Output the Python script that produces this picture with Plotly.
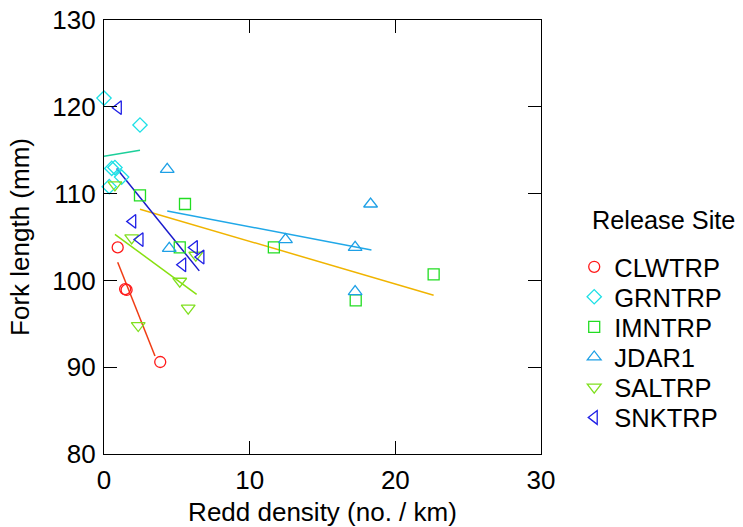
import plotly.graph_objects as go

# ---- data ----
sites = ["CLWTRP", "GRNTRP", "IMNTRP", "JDAR1", "SALTRP", "SNKTRP"]

clw_x = [0.94, 1.45, 1.55, 3.86]
clw_y = [103.8, 99.0, 98.9, 90.6]
grn_x = [0.0, 2.47, 0.53, 0.75, 1.21, 0.36]
grn_y = [121.0, 117.9, 112.9, 113.0, 111.9, 110.8]
imn_x = [2.47, 5.56, 5.2, 11.66, 17.28, 22.63]
imn_y = [109.8, 108.8, 103.8, 103.8, 97.7, 100.7]
jda_x = [4.34, 4.48, 12.46, 18.3, 17.24, 17.24]
jda_y = [112.8, 103.7, 104.7, 108.8, 103.8, 98.7]
sal_x = [0.75, 1.9, 5.2, 5.78, 2.35, 6.3]
sal_y = [111.0, 104.9, 99.9, 96.8, 94.8, 102.9]
snk_x = [0.98, 1.97, 2.47, 6.2, 6.65, 5.4]
snk_y = [119.9, 106.8, 104.7, 103.8, 102.7, 101.8]

# fitted-line endpoints per site
fit_x = {
    "CLWTRP": [0.94, 3.5],
    "GRNTRP": [0.0, 2.47],
    "IMNTRP": [2.47, 22.63],
    "JDAR1": [4.34, 18.36],
    "SALTRP": [0.75, 6.36],
    "SNKTRP": [0.87, 6.54],
}
fit_y = {
    "CLWTRP": [102.1, 91.3],
    "GRNTRP": [114.3, 115.0],
    "IMNTRP": [108.2, 98.3],
    "JDAR1": [108.0, 103.5],
    "SALTRP": [105.3, 98.4],
    "SNKTRP": [112.9, 101.1],
}

x_ticks = [0, 10, 20, 30]
y_ticks = [80, 90, 100, 110, 120, 130]

points = {
    "CLWTRP": (clw_x, clw_y),
    "GRNTRP": (grn_x, grn_y),
    "IMNTRP": (imn_x, imn_y),
    "JDAR1": (jda_x, jda_y),
    "SALTRP": (sal_x, sal_y),
    "SNKTRP": (snk_x, snk_y),
}

symbols = {
    "CLWTRP": ("circle-open", 11),
    "GRNTRP": ("diamond-open", 11),
    "IMNTRP": ("square-open", 11),
    "JDAR1": ("triangle-up-open", 12),
    "SALTRP": ("triangle-down-open", 12),
    "SNKTRP": ("triangle-left-open", 12),
}
marker_colors = {
    "CLWTRP": "#ff1a1a",
    "GRNTRP": "#1ee0e6",
    "IMNTRP": "#22dd22",
    "JDAR1": "#1ea0e6",
    "SALTRP": "#80e020",
    "SNKTRP": "#2020e6",
}
line_colors = {
    "CLWTRP": "#f03c14",
    "GRNTRP": "#1ccf9a",
    "IMNTRP": "#f0b400",
    "JDAR1": "#20a8e8",
    "SALTRP": "#88e010",
    "SNKTRP": "#1a1acc",
}

FONT = "Arial, Liberation Sans, sans-serif"

# one single-entry legend per site, so the entries sit 30 px apart
legend_ids = ["legend", "legend2", "legend3", "legend4", "legend5", "legend6"]
legend_y = [0.4304, 0.3613, 0.2919, 0.2226, 0.1532, 0.0834]

fig = go.Figure()
for s in sites:
    fig.add_trace(go.Scatter(
        x=fit_x[s], y=fit_y[s], mode="lines",
        line=dict(color=line_colors[s], width=1.5),
        showlegend=False, hoverinfo="skip",
    ))
for s, lg in zip(sites, legend_ids):
    sym, size = symbols[s]
    xs, ys = points[s]
    fig.add_trace(go.Scatter(
        x=xs, y=ys, mode="markers", name=s, legend=lg,
        marker=dict(symbol=sym, size=size, color=marker_colors[s],
                    line=dict(width=1.3, color=marker_colors[s])),
        cliponaxis=False,
    ))

axis_common = dict(
    showline=True, linecolor="black", linewidth=1.2, mirror="ticks",
    ticks="inside", ticklen=13, tickwidth=1.2, tickcolor="black",
    showgrid=False, zeroline=False, automargin=False,
    tickfont=dict(family=FONT, size=26, color="black"),
)

legend_layout = {}
for lg, ly in zip(legend_ids, legend_y):
    legend_layout[lg] = dict(
        x=1.076, y=ly, xanchor="left", yanchor="middle",
        font=dict(family=FONT, size=25.5, color="black"),
        bgcolor="rgba(0,0,0,0)", itemclick=False, itemdoubleclick=False,
    )

fig.update_layout(
    width=743, height=527,
    margin=dict(l=104, r=202, t=20, b=73),
    paper_bgcolor="white", plot_bgcolor="white",
    font=dict(family=FONT, size=25, color="black"),
    xaxis=dict(range=[0, 30], tickvals=x_ticks, ticklabelstandoff=3,
               title=dict(text="Redd density (no. / km)", standoff=10,
                          font=dict(family=FONT, size=26)),
               **axis_common),
    yaxis=dict(range=[80, 130], tickvals=y_ticks, ticklabelstandoff=2,
               title=dict(text="Fork length (mm)", standoff=15,
                          font=dict(family=FONT, size=26)),
               **axis_common),
    annotations=[dict(text="Release Site", x=1.112, y=0.539, xref="paper",
                      yref="paper", xanchor="left", yanchor="middle",
                      showarrow=False,
                      font=dict(family=FONT, size=25.3, color="black"))],
    **legend_layout,
)

fig.write_html("out.html", config={"displayModeBar": False},
               post_script="document.body.style.margin='0px';")
